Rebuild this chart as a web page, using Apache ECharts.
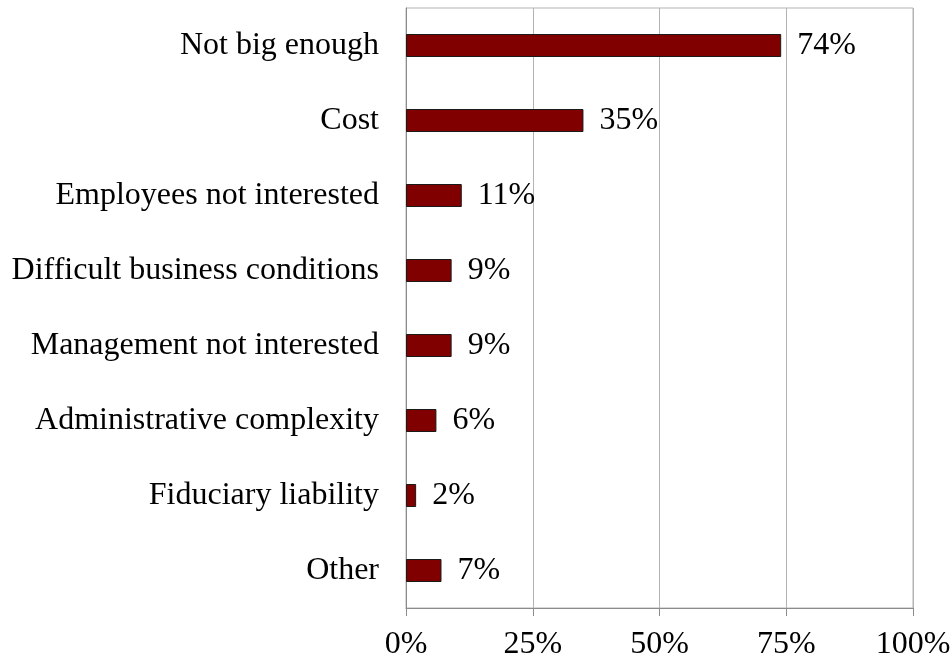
<!DOCTYPE html>
<html>
<head>
<meta charset="utf-8">
<script src="https://cdn.jsdelivr.net/npm/echarts@6/dist/echarts.min.js"></script>
<style>
html,body{margin:0;padding:0;background:#fff;}
#chart{width:951px;height:663px;}
</style>
</head>
<body>
<div id="chart"></div>
<script>
const categories = ["Not big enough","Cost","Employees not interested","Difficult business conditions","Management not interested","Administrative complexity","Fiduciary liability","Other"];
const values = [74, 35, 11, 9, 9, 6, 2, 7];
const xTicks = [0, 25, 50, 75, 100];

const FONT = "'Liberation Serif','Times New Roman',serif";
const chart = echarts.init(document.getElementById('chart'));
chart.setOption({
  animation: false,
  backgroundColor: '#ffffff',
  grid: {left: 406, right: 38, top: 8, bottom: 55, outerBoundsMode: 'none', containLabel: false, show: true, borderColor: '#b3b3b3', borderWidth: 1, backgroundColor: 'transparent'},
  xAxis: {
    type: 'value', min: xTicks[0], max: xTicks[xTicks.length-1], interval: xTicks[1]-xTicks[0],
    axisLine: {show: true, lineStyle: {color: '#8c8c8c', width: 1}},
    axisTick: {show: true, length: 8, lineStyle: {color: '#8c8c8c'}},
    splitLine: {show: true, lineStyle: {color: '#b3b3b3', width: 1}},
    axisLabel: {formatter: '{value}%', color: '#000', fontSize: 32, fontFamily: FONT, margin: 21}
  },
  yAxis: {
    type: 'category', inverse: true, data: categories,
    axisLine: {show: true, lineStyle: {color: '#8c8c8c', width: 1}},
    axisTick: {show: false},
    axisLabel: {color: '#000', fontSize: 32, fontFamily: FONT, margin: 27}
  },
  series: [{
    type: 'bar', data: values, barWidth: 23,
    itemStyle: {color: '#800000', borderColor: '#1a1a1a', borderWidth: 1},
    label: {show: true, position: 'right', distance: 16, formatter: '{c}%', color: '#000', fontSize: 32, fontFamily: FONT}
  }]
});
</script>
</body>
</html>
